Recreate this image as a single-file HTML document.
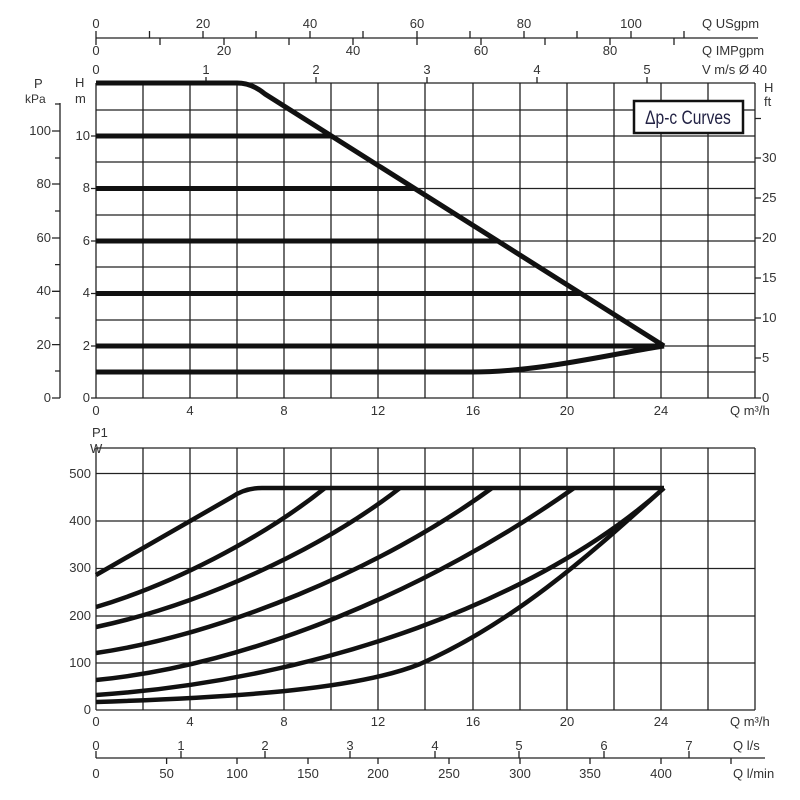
<!DOCTYPE html>
<html><head><meta charset="utf-8"><style>
html,body{margin:0;padding:0;background:#fff;}
svg{display:block;}
text{font-family:"Liberation Sans",sans-serif;font-size:13px;fill:#333;}
</style></head><body>
<svg width="800" height="800" viewBox="0 0 800 800" xmlns="http://www.w3.org/2000/svg">
<g stroke="#222" stroke-width="1.3" fill="none">
<path d="M96 83V398M143 83V398M190 83V398M237 83V398M284 83V398M331 83V398M378 83V398M425 83V398M473 83V398M520 83V398M567 83V398M614 83V398M661 83V398M708 83V398M755 83V398"/>
<path d="M96 83H755M96 110H755M96 136H755M96 162H755M96 188.5H755M96 215H755M96 241H755M96 267H755M96 293.5H755M96 320H755M96 346H755M96 372H755M96 398H755"/>
<path d="M96 448V710M143 448V710M190 448V710M237 448V710M284 448V710M331 448V710M378 448V710M425 448V710M473 448V710M520 448V710M567 448V710M614 448V710M661 448V710M708 448V710M755 448V710"/>
<path d="M96 448H755M96 473.5H755M96 521H755M96 568.5H755M96 616H755M96 663H755M96 710H755"/>
<path d="M60 103V398M52 398H60M55 371H60M52 344.6H60M55 318H60M52 291.3H60M55 264.6H60M52 238H60M55 211H60M52 184H60M55 158H60M52 131H60M55 104H60"/>
<path d="M91 398H96M91 346H96M91 293.5H96M91 241H96M91 188.5H96M91 136H96"/>
<path d="M755 398H761M755 358H761M755 318H761M755 278H761M755 238H761M755 198H761M755 158H761M755 118.5H761"/>
<path d="M96 38H758"/>
<path d="M96 38V31M149.5 38V31M203 38V31M256 38V31M310 38V31M363 38V31M417 38V31M470 38V31M524 38V31M577 38V31M631 38V31M684 38V31"/>
<path d="M96 38V45M160 38V45M224 38V45M289 38V45M353 38V45M417 38V45M481 38V45M545 38V45M610 38V45M674 38V45"/>
<path d="M206 83V77M316 83V77M427 83V77M537 83V77M647 83V77"/>
<path d="M96 758H765"/>
<path d="M96 758V751M181 758V751M265 758V751M350 758V751M435 758V751M519 758V751M604 758V751M689 758V751"/>
<path d="M166.6 758V764M237 758V764M308 758V764M378 758V764M449 758V764M520 758V764M590 758V764M661 758V764M731 758V764"/>
</g>
<g stroke="#111" stroke-width="5" fill="none" stroke-linejoin="round">
<path d="M96 83L237 83Q252 83 265 94L664 346"/>
<path d="M96 136H331M96 188.5H414M96 241H497M96 293.5H580M96 346H664"/>
<path d="M96 372H472C540 372 610 354 664 346"/>
</g>
<g stroke="#111" stroke-width="4.5" fill="none" stroke-linejoin="round">
<path d="M96 575L232 497Q245 488 262 488L664 488"/>
<path d="M96 607C170 585 260 540 325 488"/>
<path d="M96 627C200 605 320 550 400 488"/>
<path d="M96 653C220 635 380 570 492 488"/>
<path d="M96 680C250 665 430 590 574 488"/>
<path d="M96 695C320 680 540 600 664 488"/>
<path d="M96 702C250 697 360 688 420 664C520 620 600 545 664 488"/>
</g>
<rect x="634" y="101" width="109" height="32" fill="#fff" stroke="#111" stroke-width="2.5"/>
<text x="688" y="124" text-anchor="middle" style="font-size:19px;fill:#224" transform="translate(688 0) scale(0.82 1) translate(-688 0)">Δp-c Curves</text>
<g text-anchor="middle">
<text x="96" y="28">0</text><text x="203" y="28">20</text><text x="310" y="28">40</text><text x="417" y="28">60</text><text x="524" y="28">80</text><text x="631" y="28">100</text>
<text x="96" y="55">0</text><text x="224" y="55">20</text><text x="353" y="55">40</text><text x="481" y="55">60</text><text x="610" y="55">80</text>
<text x="96" y="74">0</text><text x="206" y="74">1</text><text x="316" y="74">2</text><text x="427" y="74">3</text><text x="537" y="74">4</text><text x="647" y="74">5</text>
<text x="96" y="415">0</text><text x="190" y="415">4</text><text x="284" y="415">8</text><text x="378" y="415">12</text><text x="473" y="415">16</text><text x="567" y="415">20</text><text x="661" y="415">24</text>
<text x="96" y="726">0</text><text x="190" y="726">4</text><text x="284" y="726">8</text><text x="378" y="726">12</text><text x="473" y="726">16</text><text x="567" y="726">20</text><text x="661" y="726">24</text>
<text x="96" y="750">0</text><text x="181" y="750">1</text><text x="265" y="750">2</text><text x="350" y="750">3</text><text x="435" y="750">4</text><text x="519" y="750">5</text><text x="604" y="750">6</text><text x="689" y="750">7</text>
<text x="96" y="778">0</text><text x="166.6" y="778">50</text><text x="237" y="778">100</text><text x="308" y="778">150</text><text x="378" y="778">200</text><text x="449" y="778">250</text><text x="520" y="778">300</text><text x="590" y="778">350</text><text x="661" y="778">400</text>
</g>
<g>
<text x="702" y="28">Q USgpm</text>
<text x="702" y="55">Q IMPgpm</text>
<text x="702" y="74">V m/s Ø 40</text>
<text x="730" y="415">Q m³/h</text>
<text x="730" y="726">Q m³/h</text>
<text x="733" y="750">Q l/s</text>
<text x="733" y="778">Q l/min</text>
<text x="764" y="92">H</text><text x="764" y="106">ft</text>
<text x="762" y="402">0</text><text x="762" y="362">5</text><text x="762" y="322">10</text><text x="762" y="282">15</text><text x="762" y="242">20</text><text x="762" y="202">25</text><text x="762" y="162">30</text>
<text x="75" y="87">H</text><text x="75" y="103">m</text>
<text x="34" y="88">P</text><text x="25" y="103" style="font-size:12px">kPa</text>
<text x="92" y="437">P1</text><text x="90" y="453">W</text>
</g>
<g text-anchor="end">
<text x="51" y="402">0</text><text x="51" y="349">20</text><text x="51" y="295">40</text><text x="51" y="242">60</text><text x="51" y="188">80</text><text x="51" y="135">100</text>
<text x="90" y="402">0</text><text x="90" y="350">2</text><text x="90" y="297">4</text><text x="90" y="245">6</text><text x="90" y="192">8</text><text x="90" y="140">10</text>
<text x="91" y="714">0</text><text x="91" y="667">100</text><text x="91" y="620">200</text><text x="91" y="572">300</text><text x="91" y="525">400</text><text x="91" y="478">500</text>
</g>
</svg>
</body></html>
